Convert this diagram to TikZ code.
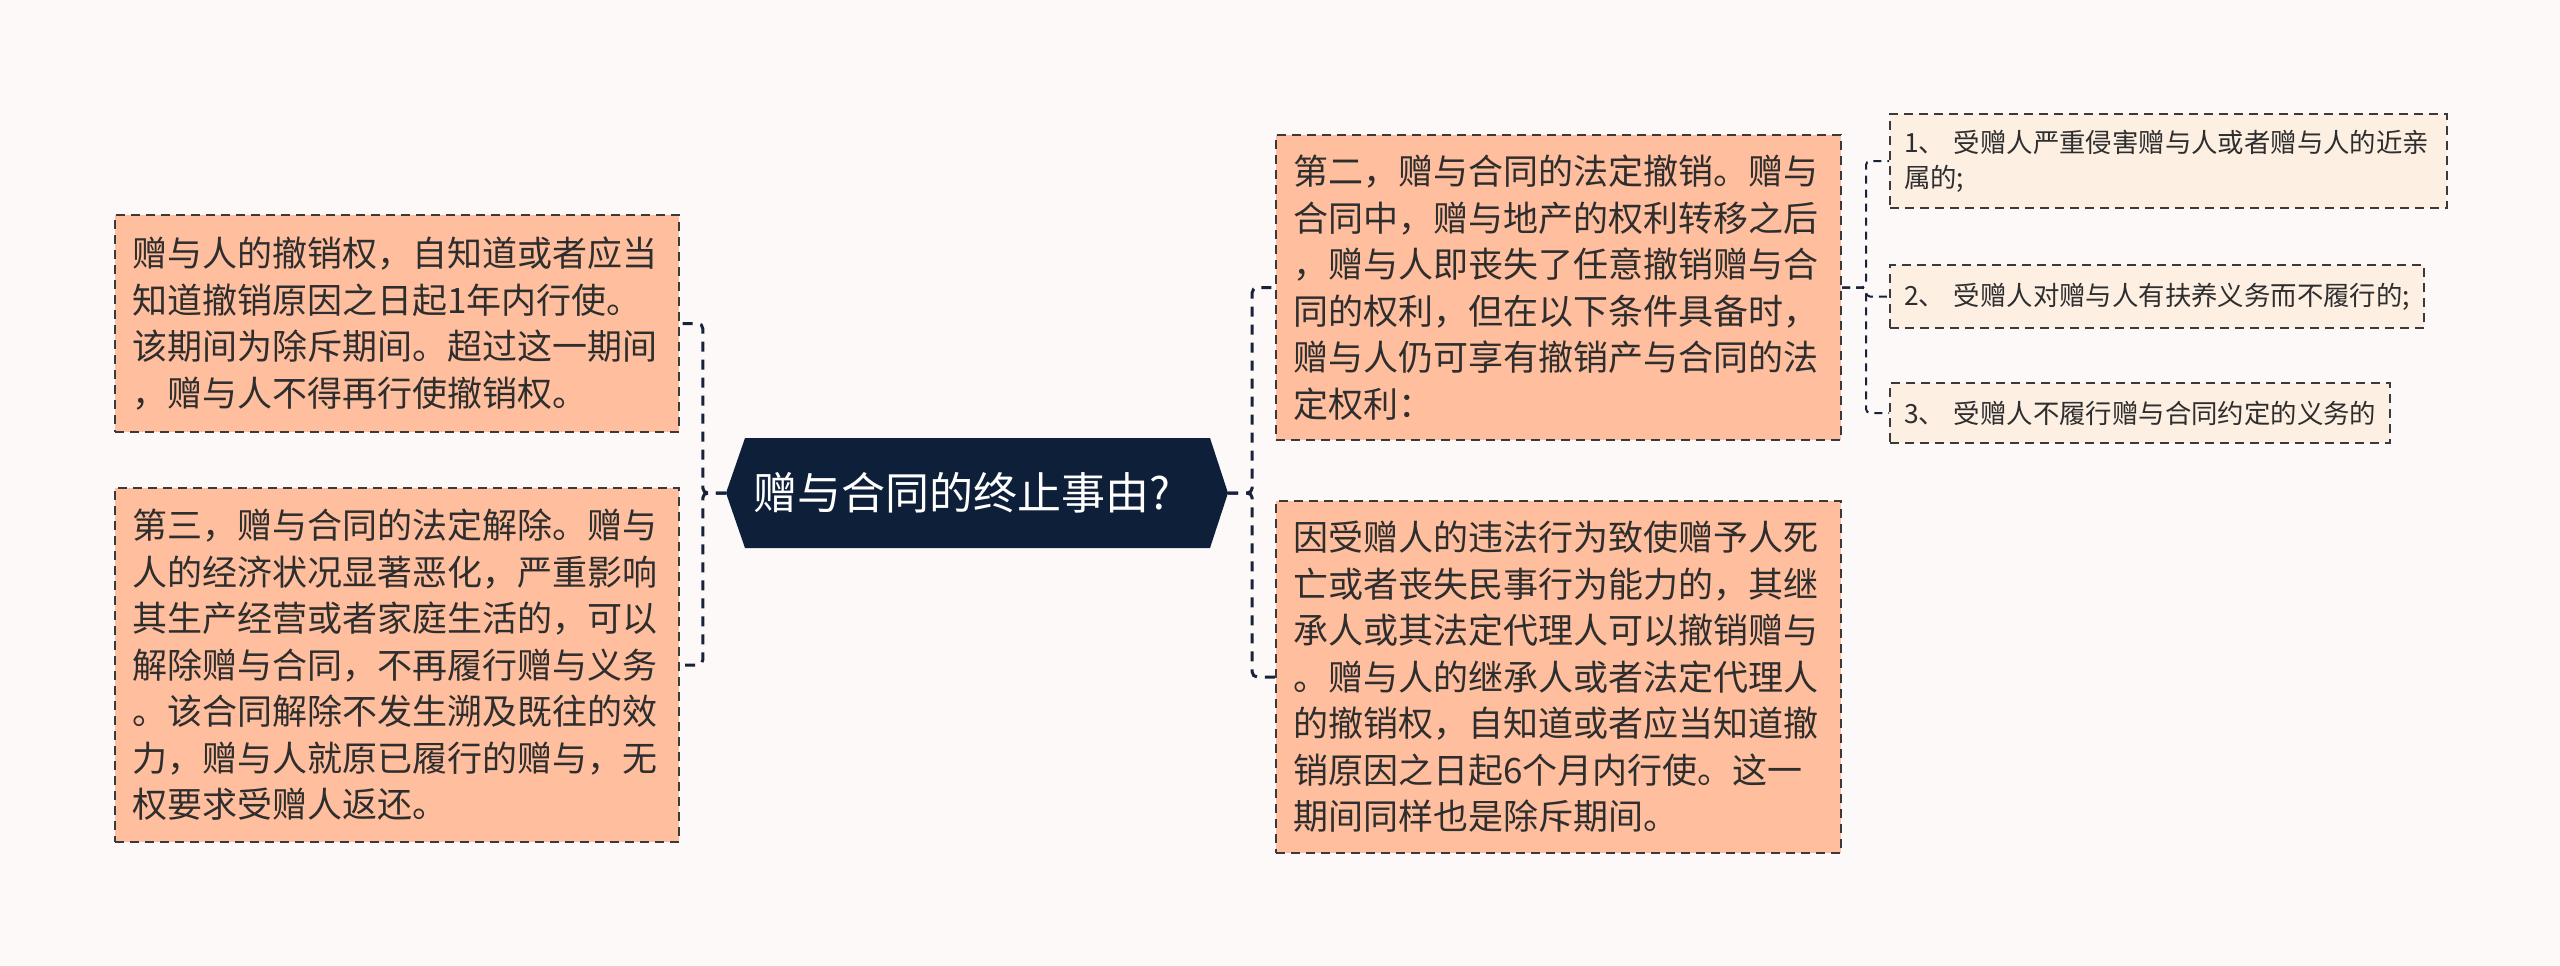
\documentclass[tikz,border=0pt]{standalone}
\usepackage{fontspec}
\setmainfont{Noto Sans CJK SC}
\definecolor{bgc}{HTML}{FDF9F8}
\definecolor{salmon}{HTML}{FFBE9D}
\definecolor{cream}{HTML}{FDF0E3}
\definecolor{navy}{HTML}{0E1F3A}
\definecolor{linec}{HTML}{18223A}
\definecolor{bordc}{HTML}{3A3A3A}
\definecolor{txtc}{HTML}{2E2E2E}
\tikzset{
  bigbox/.style={draw=bordc, line width=2pt, dash pattern=on 9pt off 6pt, fill=salmon, anchor=north west,
    inner xsep=17pt, inner ysep=0pt, align=left, text=txtc,
    font=\fontsize{35pt}{46.5pt}\selectfont},
  smallbox/.style={draw=bordc, line width=2pt, dash pattern=on 9pt off 6pt, fill=cream, anchor=north west,
    inner xsep=14pt, inner ysep=0pt, align=left, text=txtc,
    font=\fontsize{26.4pt}{35pt}\selectfont},
  mainlink/.style={draw=linec, line width=3pt, dash pattern=on 10pt off 8pt, rounded corners=5pt},
  sublink/.style={draw=linec, line width=2pt, dash pattern=on 8pt off 6pt, rounded corners=4pt}
}
\begin{document}
\begin{tikzpicture}[x=1pt,y=-1pt]
\useasboundingbox (0,0) rectangle (2560,966);
\fill[bgc] (0,0) rectangle (2560,966);

% central topic
\fill[navy] (726,493) -- (745,438) -- (1210,438) -- (1228,493) -- (1210,548) -- (745,548) -- cycle;
\node[inner sep=0, minimum width=502pt, minimum height=110pt] (c) at (977,493) {};
\node[text=white, font=\fontsize{44pt}{50pt}\selectfont, inner sep=0] (ct) at (962,493) {赠与合同的终止事由?};

% left branches
\node[bigbox, minimum width=564pt, minimum height=217pt, text width=530pt] (L1) at (114,214)
{赠与人的撤销权，自知道或者应当\\知道撤销原因之日起1年内行使。\\该期间为除斥期间。超过这一期间\\，赠与人不得再行使撤销权。};
\node[bigbox, minimum width=564pt, minimum height=354pt, text width=530pt] (L2) at (114,487)
{第三，赠与合同的法定解除。赠与\\人的经济状况显著恶化，严重影响\\其生产经营或者家庭生活的，可以\\解除赠与合同，不再履行赠与义务\\。该合同解除不发生溯及既往的效\\力，赠与人就原已履行的赠与，无\\权要求受赠人返还。};

% right branches
\node[bigbox, minimum width=565pt, minimum height=305pt, text width=531pt] (R1) at (1275,134)
{第二，赠与合同的法定撤销。赠与\\合同中，赠与地产的权利转移之后\\，赠与人即丧失了任意撤销赠与合\\同的权利，但在以下条件具备时，\\赠与人仍可享有撤销产与合同的法\\定权利：};
\node[bigbox, minimum width=565pt, minimum height=352pt, text width=531pt] (R2) at (1275,500)
{因受赠人的违法行为致使赠予人死\\亡或者丧失民事行为能力的，其继\\承人或其法定代理人可以撤销赠与\\。赠与人的继承人或者法定代理人\\的撤销权，自知道或者应当知道撤\\销原因之日起6个月内行使。这一\\期间同样也是除斥期间。};

% sub items
\node[smallbox, minimum width=557pt, minimum height=94pt, text width=529pt] (S1) at (1889,113)
{1、 受赠人严重侵害赠与人或者赠与人的近亲\\属的;};
\node[smallbox, minimum width=534pt, minimum height=63pt, text width=506pt] (S2) at (1889,264)
{2、 受赠人对赠与人有扶养义务而不履行的;};
\node[smallbox, minimum width=500pt, minimum height=60pt, text width=472pt] (S3) at (1889,382)
{3、 受赠人不履行赠与合同约定的义务的};

% connectors
\draw[mainlink] (c.west) -- ++(-23,0) |- (L1.east);
\draw[mainlink] (c.west) -- ++(-23,0) |- (L2.east);
\draw[mainlink] (c.east) -- ++(24,0) |- (R1.west);
\draw[mainlink] (c.east) -- ++(24,0) |- (R2.west);
\draw[sublink] (R1.east) -- ++(24,0) |- (S1.west);
\draw[sublink] (R1.east) -- ++(24,0) |- (S2.west);
\draw[sublink] (R1.east) -- ++(24,0) |- (S3.west);
\end{tikzpicture}
\end{document}
